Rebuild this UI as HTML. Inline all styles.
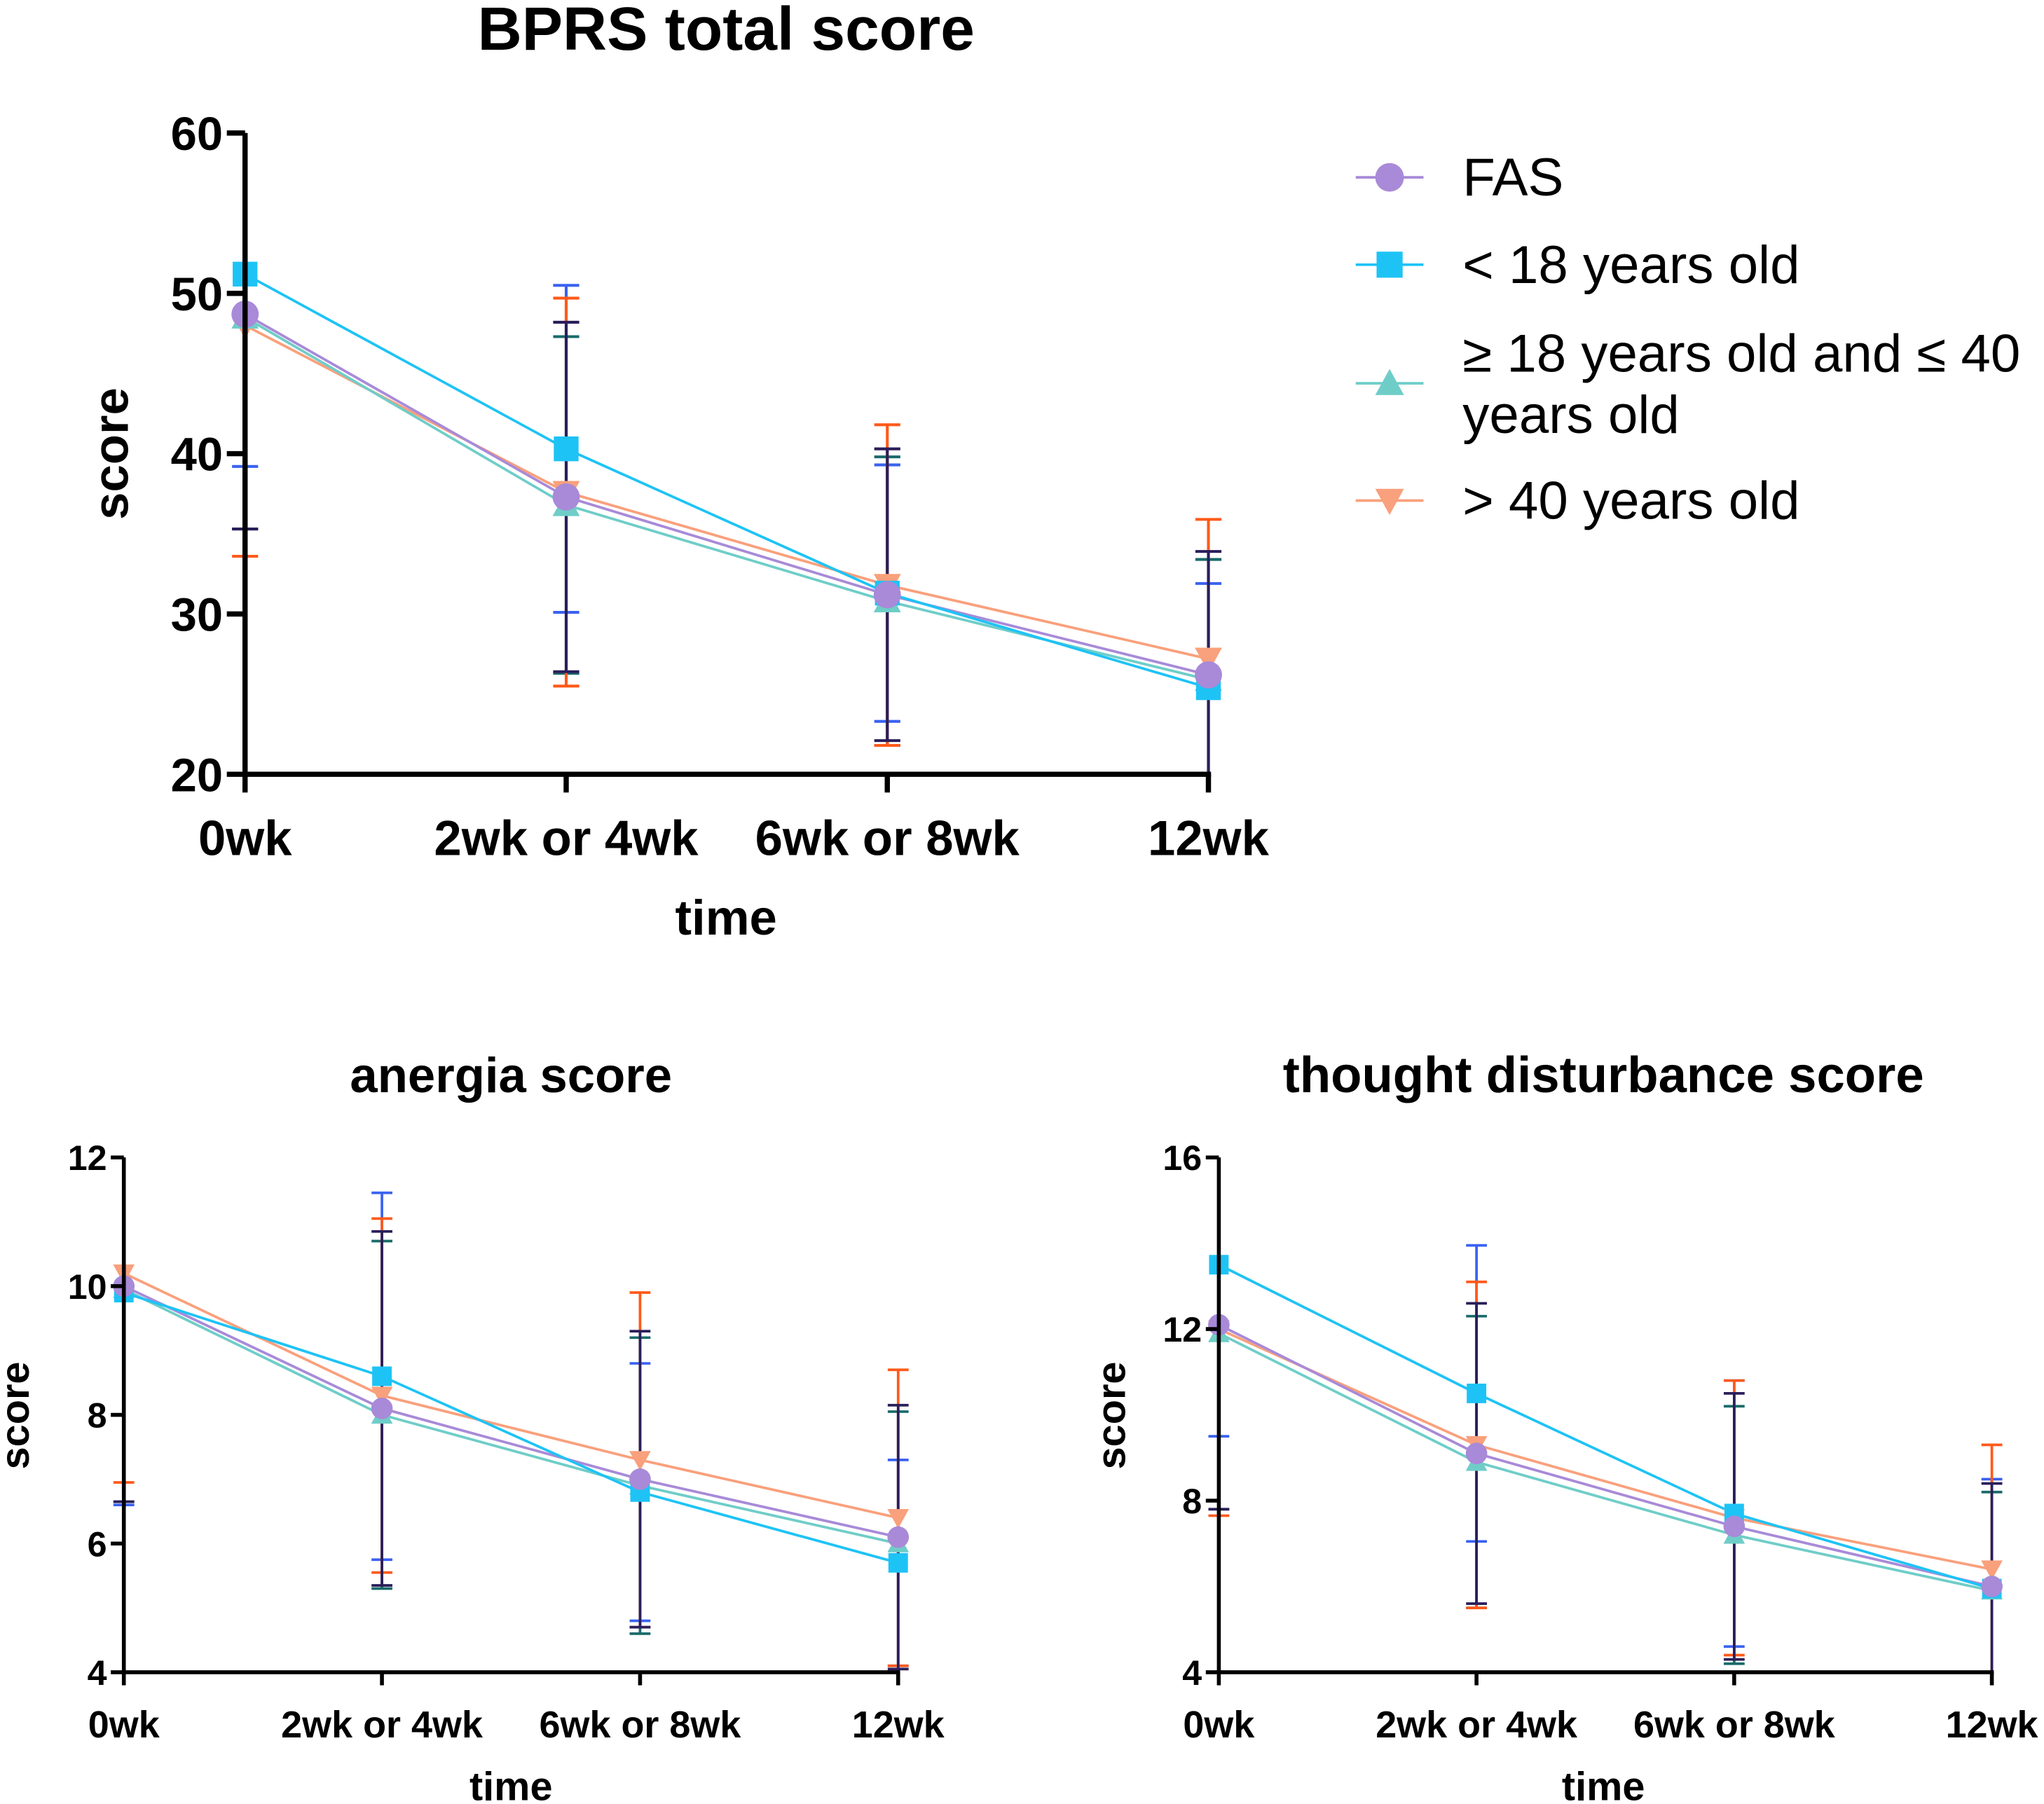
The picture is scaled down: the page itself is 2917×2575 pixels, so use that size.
<!DOCTYPE html>
<html><head><meta charset="utf-8"><style>
html,body{margin:0;padding:0;background:#fff}
svg{display:block}
text{font-family:"Liberation Sans",Arial,sans-serif}
</style></head><body>
<svg id="c" width="2917" height="2575" viewBox="0 0 1568 1384" xmlns="http://www.w3.org/2000/svg"></svg>
<script>
const categories=["0wk","2wk or 4wk","6wk or 8wk","12wk"];
const seriesNames=["FAS","< 18 years old","≥ 18 years old and ≤ 40 years old","> 40 years old"];
// BPRS total
const bprsFAS=[48.7,37.3,31.2,26.2], bprsU18=[51.2,40.3,31.3,25.4], bprs1840=[48.5,36.8,30.8,25.9], bprsO40=[48.0,37.6,31.8,27.2];
const bprsSdFAS=[13.4,10.9,9.1,7.7], bprsSdU18=[12.0,10.2,8.0,6.5], bprsSd1840=[13.2,10.5,9.0,7.5], bprsSdO40=[14.4,12.1,10.0,8.7];
const bprsTicks=[20,30,40,50,60];
// anergia
const anFAS=[10.0,8.1,7.0,6.1], anU18=[9.9,8.6,6.8,5.7], an1840=[9.95,8.0,6.9,6.0], anO40=[10.2,8.3,7.3,6.4];
const anSdFAS=[3.35,2.75,2.3,2.05], anSdU18=[3.3,2.85,2.0,1.6], anSd1840=[3.3,2.7,2.3,2.05], anSdO40=[3.25,2.75,2.6,2.3];
const anTicks=[4,6,8,10,12];
// thought disturbance
const tdFAS=[12.1,9.1,7.4,6.0], tdU18=[13.5,10.5,7.7,5.95], td1840=[11.9,8.9,7.2,5.9], tdO40=[12.0,9.3,7.6,6.4];
const tdSdFAS=[4.3,3.5,3.1,2.4], tdSdU18=[4.0,3.45,3.1,2.55], tdSd1840=[4.1,3.4,3.0,2.3], tdSdO40=[4.35,3.8,3.2,2.9];
const tdTicks=[4,8,12,16];

const NS="http://www.w3.org/2000/svg";
const svg=document.getElementById('c');
function mk(tag,attrs,parent){const e=document.createElementNS(NS,tag);for(const k in attrs)e.setAttribute(k,attrs[k]);(parent||svg).appendChild(e);return e;}
const lineCol=["#a88ad8","#1ec3f5","#6fcdc8","#f9a07c"];
const errCol=["#2a1e5a","#3a62f0","#1a6a6a","#ff5a1a"];
const keys=["fas","under18","18to40","over40"];

function marker(g,i,x,y,s){
  let m;
  if(i===0)m=mk('circle',{cx:x,cy:y,r:s*0.55,fill:lineCol[0]},g);
  else if(i===1)m=mk('rect',{x:x-s/2,y:y-s/2,width:s,height:s,fill:lineCol[1]},g);
  else if(i===2)m=mk('polygon',{points:`${x},${y-s*0.55} ${x-s*0.55},${y+s*0.45} ${x+s*0.55},${y+s*0.45}`,fill:lineCol[2]},g);
  else m=mk('polygon',{points:`${x},${y+s*0.55} ${x-s*0.55},${y-s*0.45} ${x+s*0.55},${y-s*0.45}`,fill:lineCol[3]},g);
  return m;
}

function chart(o){
  const g=mk('g',{});
  
  
  const ymin=o.ticks[0],ymax=o.ticks[o.ticks.length-1];
  const X=i=>o.x0+(o.x1-o.x0)*i/(categories.length-1);
  const Y=v=>o.yb+(o.yt-o.yb)*(v-ymin)/(ymax-ymin);
  const clamp=v=>Math.max(ymin,Math.min(ymax,v));
  [1,2,3,0].forEach(s=>{
    o.vals[s].forEach((v,i)=>{
      const sd=o.sds[s][i],x=X(i);
      const e=mk('line',{x1:x,x2:x,y1:Y(clamp(v+sd)),y2:Y(clamp(v-sd)),stroke:errCol[s],'stroke-width':o.ew},g);
      
      
      [v+sd,v-sd].forEach(b=>{if(b<ymax&&b>ymin){
        const c=mk('line',{x1:x-o.cap,x2:x+o.cap,y1:Y(b),y2:Y(b),stroke:errCol[s],'stroke-width':o.ew},g);
        
        }});
    });
  });
  [3,2,0,1].forEach(s=>{
    const p=mk('polyline',{points:o.vals[s].map((v,i)=>X(i)+','+Y(v)).join(' '),fill:'none',stroke:lineCol[s],'stroke-width':o.lw},g);
    
    
  });
  [3,2,1,0].forEach(s=>{
    o.vals[s].forEach((v,i)=>{
      const m=marker(g,s,X(i),Y(v),o.ms);
      
      
    });
  });
  const ya=mk('line',{x1:o.x0,x2:o.x0,y1:o.yt,y2:o.yb+o.aw/2,stroke:'#000','stroke-width':o.aw},g);
  
  const xa=mk('line',{x1:o.x0-o.aw/2,x2:o.x1+o.aw/2,y1:o.yb,y2:o.yb,stroke:'#000','stroke-width':o.aw},g);
  
  o.ticks.forEach(t=>{
    mk('line',{x1:o.x0-o.tl,x2:o.x0,y1:Y(t),y2:Y(t),stroke:'#000','stroke-width':o.aw},g);
    const tx=mk('text',{x:o.x0-o.tl-3,y:Y(t)+o.yfs*0.36,'text-anchor':'end','font-size':o.yfs,'font-weight':'bold'},g);
    tx.textContent=t;
    
  });
  categories.forEach((c,i)=>{
    mk('line',{x1:X(i),x2:X(i),y1:o.yb,y2:o.yb+o.tl,stroke:'#000','stroke-width':o.aw},g);
    const tx=mk('text',{x:X(i),y:o.xly,'text-anchor':'middle','font-size':o.xfs,'font-weight':'bold'},g);
    tx.textContent=c;
    
  });
  const tt=mk('text',{x:o.tx,y:o.ty,'text-anchor':'middle','font-size':o.tfs,'font-weight':'bold'},g);
  tt.textContent=o.title;
  const xt=mk('text',{x:o.xtx,y:o.xty,'text-anchor':'middle','font-size':o.afs,'font-weight':'bold'},g);
  xt.textContent='time';
  const yt=mk('text',{x:0,y:0,'text-anchor':'middle','font-size':o.afs,'font-weight':'bold',transform:`translate(${o.ytx},${o.yty}) rotate(-90)`},g);
  yt.textContent='score';
}

chart({name:'bprs-total-chart',title:'BPRS total score',x0:188,x1:927,yt:102,yb:594,ticks:bprsTicks,
  vals:[bprsFAS,bprsU18,bprs1840,bprsO40],sds:[bprsSdFAS,bprsSdU18,bprsSd1840,bprsSdO40],
  ew:2.2,cap:10,lw:2,ms:19,aw:4,tl:14,yfs:36,xfs:38,xly:656,tfs:47,afs:38,tx:557,ty:38,xtx:557,xty:717,ytx:98,yty:348});
chart({name:'anergia-chart',title:'anergia score',x0:95,x1:689,yt:888,yb:1283,ticks:anTicks,
  vals:[anFAS,anU18,an1840,anO40],sds:[anSdFAS,anSdU18,anSdFAS,anSdO40].map((a,i)=>i===2?anSd1840:a),
  ew:2,cap:8,lw:2,ms:15,aw:3,tl:10,yfs:27,xfs:29,xly:1333,tfs:38,afs:31,tx:392,ty:838,xtx:392,xty:1381,ytx:22,yty:1086});
chart({name:'thought-disturbance-chart',title:'thought disturbance score',x0:935,x1:1528,yt:888,yb:1283,ticks:tdTicks,
  vals:[tdFAS,tdU18,td1840,tdO40],sds:[tdSdFAS,tdSdU18,tdSd1840,tdSdO40],
  ew:2,cap:8,lw:2,ms:15,aw:3,tl:10,yfs:27,xfs:29,xly:1333,tfs:39,afs:31,tx:1230,ty:838,xtx:1230,xty:1381,ytx:863,yty:1086});

const lg=mk('g',{});


const legY=[136,203,294,384];
seriesNames.forEach((n,i)=>{
  const e=mk('g',{},lg);
  
  
  mk('line',{x1:1040,x2:1092,y1:legY[i],y2:legY[i],stroke:lineCol[i],'stroke-width':2},e);
  marker(e,i,1066,legY[i],20);
  if(i===2){
    const t1=mk('text',{x:1122,y:285,'font-size':41},e);t1.textContent='≥ 18 years old and ≤ 40';
    const t2=mk('text',{x:1122,y:332,'font-size':41},e);t2.textContent='years old';
  } else {
    const t=mk('text',{x:1122,y:legY[i]+14,'font-size':41},e);t.textContent=n;
  }
});
</script>
</body></html>
